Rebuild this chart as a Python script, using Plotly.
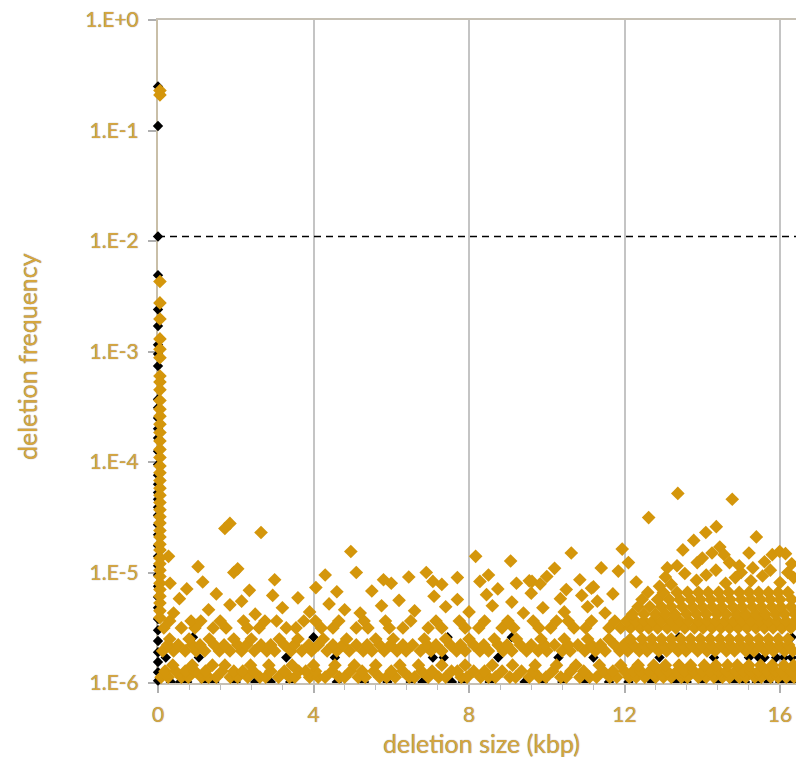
import plotly.graph_objects as go

# ---------------- data ----------------
X_MAX = 16.41          # visible end of the x axis (kbp)
THRESHOLD = 0.011      # dashed threshold frequency

# gold sample: dense bands, each as (frequency level, deletion sizes in kbp)
gold_1a_y = 1.13e-6
gold_1a_x = [0.08,0.26,0.6,0.78,1.12,1.3,1.5,1.86,2.05,2.31,2.62,2.77,3.1,3.38,3.52,3.9,4.12,4.3,4.66,4.8,5.15,5.33,5.7,5.88,6.1,6.46,6.6,6.95,7.22,7.4,7.8,7.95,8.3,8.5,8.68,9.05,9.2,9.55,9.8,9.98,10.36,10.5,10.85,11.1,11.28,11.62,11.8,12.12,12.3,12.52,12.8,13.0,13.2,13.46,13.62,13.9,14.1,14.3,14.52,14.7,14.95,15.12,15.35,15.52,15.76,15.95,16.16,16.36]
gold_1b_y = 1.28e-6
gold_1b_x = [0.18,0.45,0.7,0.95,1.22,1.65,1.95,2.18,2.45,2.9,3.25,3.62,3.8,4.05,4.48,4.95,5.25,5.55,6.0,6.3,6.78,7.05,7.55,7.7,8.12,8.4,8.85,9.35,9.65,10.15,10.62,10.95,11.45,11.7,12.0,12.22,12.42,12.65,12.9,13.1,13.35,13.55,13.78,14.0,14.2,14.42,14.62,14.85,15.05,15.25,15.45,15.65,15.88,16.05,16.28]
gold_1c_y = 1.45e-6
gold_1c_x = [0.38,0.88,1.4,1.72,2.38,2.85,3.45,4.0,4.55,5.05,5.6,6.22,6.7,7.3,7.9,8.6,9.12,9.7,10.25,10.75,11.35,11.9,12.35,12.75,13.05,13.4,13.7,14.05,14.35,14.65,14.9,15.2,15.5,15.8,16.1,16.35]
gold_2a_y = 1.95e-6
gold_2a_x = [0.12,0.4,0.7,0.98,1.2,1.58,1.85,2.15,2.48,2.8,3.0,3.42,3.7,3.95,4.35,4.6,4.92,5.28,5.5,5.82,6.15,6.38,6.75,7.02,7.3,7.68,7.9,8.28,8.5,8.88,9.1,9.48,9.78,10.0,10.4,10.6,10.98,11.25,11.5,11.88,12.08,12.38,12.58,12.88,13.08,13.38,13.58,13.88,14.12,14.33,14.62,14.83,15.12,15.33,15.62,15.83,16.12,16.33]
gold_2b_y = 2.21e-6
gold_2b_x = [0.25,0.52,0.88,1.08,1.45,1.7,2.05,2.28,2.65,2.9,3.25,3.5,3.88,4.12,4.5,4.75,5.1,5.38,5.7,5.98,6.3,6.55,6.92,7.15,7.52,7.78,8.12,8.38,8.75,8.98,9.32,9.6,9.95,10.2,10.55,10.8,11.15,11.38,11.75,11.98,12.22,12.48,12.72,12.98,13.22,13.48,13.72,13.98,14.22,14.48,14.72,14.98,15.22,15.48,15.72,15.98,16.22]
gold_2c_y = 2.5e-6
gold_2c_x = [0.3,0.8,1.32,1.95,2.4,3.12,3.6,4.25,4.85,5.6,6.05,6.85,7.4,8.0,8.65,9.22,9.85,10.45,11.05,11.6,12.15,12.45,12.7,12.95,13.2,13.45,13.7,13.95,14.2,14.45,14.7,14.95,15.2,15.45,15.7,15.95,16.2]
gold_3a_y = 3.15e-6
gold_3a_x = [0.15,0.6,0.95,1.42,1.75,2.3,2.6,3.3,3.55,4.2,4.5,5.1,5.4,5.95,6.3,6.95,7.3,7.9,8.25,8.85,9.15,9.8,10.1,10.7,11.0,11.6,11.9,12.15,12.4,12.62,12.85,13.1,13.32,13.55,13.8,14.02,14.25,14.48,14.7,14.92,15.15,15.38,15.6,15.82,16.05,16.28]
gold_3b_y = 3.64e-6
gold_3b_x = [0.3,0.85,1.1,1.6,2.2,2.75,3.05,3.75,4.05,4.65,5.3,5.85,6.5,7.15,7.75,8.4,9.0,9.65,10.25,10.55,11.15,11.75,12.05,12.28,12.5,12.72,12.95,13.2,13.42,13.65,13.9,14.12,14.35,14.58,14.8,15.02,15.25,15.48,15.7,15.92,16.15,16.38]
gold_4a_y = 4.2e-6
gold_4a_x = [12.2,12.5,12.8,13.05,13.3,13.6,13.85,14.1,14.38,14.62,14.88,15.12,15.38,15.62,15.88,16.12,16.38]
gold_4b_y = 4.9e-6
gold_4b_x = [12.35,12.65,12.95,13.2,13.48,13.75,14.0,14.25,14.5,14.78,15.02,15.28,15.52,15.78,16.02,16.28]
gold_5a_y = 5.7e-6
gold_5a_x = [12.45,12.85,13.15,13.42,13.7,13.95,14.22,14.48,14.72,15.0,15.25,15.5,15.75,16.0,16.3]
gold_5b_y = 6.6e-6
gold_5b_x = [12.6,13.0,13.35,13.62,13.9,14.15,14.42,14.68,14.95,15.2,15.45,15.7,15.95,16.2]

# gold scattered points (x in kbp, frequency)
gold_sc_x = [0.4,0.55,0.74,1.3,1.5,1.85,2.15,2.35,2.5,2.95,3.2,3.6,3.9,4.4,4.6,4.8,5.2,5.5,5.75,6.2,6.6,7.1,7.4,7.7,8.0,8.45,8.6,8.74,9.1,9.4,9.6,9.9,10.35,10.45,10.5,10.9,11.05,11.3,11.5,11.7,11.2,
             0.31,1.15,3.0,6.0,7.07,8.28,9.22,9.55,10.85,
             12.3,13.2,13.85,14.1,14.6,14.85,15.25,15.55,16.0,16.35,12.9,13.55,14.35,15.0,15.75,16.2,13.35,14.95,
             0.27,1.03,1.72,1.85,1.95,2.05,2.65,4.06,4.3,4.96,5.1,5.8,6.45,6.9,7.3,7.7,8.17,8.5,9.07,9.62,9.83,10.0,10.2,10.63,11.15,11.4,11.84,11.94,12.1,12.62,13.05,13.1,13.37,13.5,13.78,13.87,14.0,14.09,14.25,14.36,14.45,14.56,14.7,14.77,15.2,15.3,15.39,15.6,15.8,15.99,16.14,16.3]
gold_sc_y = [4.3e-6,5.8e-6,7.1e-6,4.6e-6,6.4e-6,5.1e-6,5.5e-6,6.9e-6,4.2e-6,6.2e-6,4.8e-6,5.9e-6,4.4e-6,5.2e-6,6.7e-6,4.6e-6,4.3e-6,6.8e-6,5.0e-6,5.6e-6,4.5e-6,6.1e-6,4.9e-6,5.7e-6,4.4e-6,6.3e-6,5.0e-6,7.1e-6,5.4e-6,4.3e-6,6.5e-6,4.8e-6,5.8e-6,4.4e-6,7.0e-6,6.2e-6,4.9e-6,5.5e-6,4.3e-6,6.4e-6,7.4e-6,
             8.0e-6,8.2e-6,8.6e-6,8.0e-6,8.3e-6,8.3e-6,8.0e-6,8.4e-6,8.6e-6,
             8.2e-6,7.8e-6,8.5e-6,9.5e-6,8.0e-6,9.0e-6,8.4e-6,9.3e-6,8.1e-6,9.0e-6,7.5e-6,9.8e-6,1.05e-5,1.0e-5,1.05e-5,1.0e-5,1.15e-5,1.15e-5,
             1.4e-5,1.13e-5,2.5e-5,2.78e-5,1.0e-5,1.08e-5,2.3e-5,7.3e-6,9.5e-6,1.55e-5,1.0e-5,8.6e-6,9.1e-6,1.0e-5,7.8e-6,9.0e-6,1.4e-5,9.5e-6,1.27e-5,8.3e-6,7.9e-6,9.2e-6,1.09e-5,1.5e-5,7.2e-6,1.1e-5,1.03e-5,1.63e-5,1.23e-5,3.14e-5,9.1e-6,1.1e-5,5.2e-5,1.6e-5,1.95e-5,1.23e-5,1.35e-5,2.3e-5,1.5e-5,2.6e-5,1.7e-5,1.45e-5,1.23e-5,4.6e-5,1.5e-5,1.1e-5,2.1e-5,1.25e-5,1.45e-5,1.55e-5,1.48e-5,1.2e-5]

# gold column of very small deletions
gold_col_x = 0.05
gold_col_y = [0.23,0.21,4.3e-3,2.75e-3,1.97e-3,1.3e-3,1.05e-3,8.8e-4,6e-4,5.3e-4,4.5e-4,3.6e-4,3.0e-4,2.6e-4,2.2e-4,1.85e-4,1.55e-4,1.3e-4,1.1e-4,9.2e-5,8e-5,6.8e-5,5.8e-5,5e-5,4.3e-5,3.7e-5,3.2e-5,2.8e-5,2.4e-5,2.1e-5,1.8e-5,1.6e-5,1.35e-5,1.2e-5,1.05e-5,9.2e-6,8e-6,7e-6,6.1e-6,5.3e-6,4.5e-6,3.9e-6]

# black sample
black_col_x = 0.0
black_col_y = [0.25,0.11,0.011,4.9e-3,2.4e-3,1.7e-3,1.15e-3,9.5e-4,7.4e-4,3.7e-4,3.1e-4,2.5e-4,2.0e-4,1.65e-4,1.25e-4,9.5e-5,7.6e-5,6.3e-5,5.3e-5,4.6e-5,3.9e-5,3.3e-5,2.7e-5,2.2e-5,1.75e-5,1.4e-5,1.15e-5,9.5e-6,7.5e-6,6e-6,4.8e-6,3.8e-6,3e-6,2.4e-6,1.9e-6,1.55e-6,1.25e-6,1.05e-6]
black_low_y = 1.02e-6
black_low_x = [0.33,0.57,0.75,1.2,1.45,2.0,2.5,2.9,3.4,4.6,5.3,5.9,6.5,6.8,7.56,7.84,8.53,9.43,9.9,10.4,11.0,11.6,12.1,12.7,13.3,13.6,14.0,14.4,14.8,15.1,15.4,15.7,16.0,16.3]
black_mid_y = 1.7e-6
black_mid_x = [0.2,1.05,3.3,4.55,7.07,7.35,8.75,10.3,11.2,12.9,14.3,15.2,15.45,15.6,15.9,16.1,16.3]
black_up_y = 2.6e-6
black_up_x = [0.9,4.0,7.45,9.1,13.4,16.3]

x_ticks = [0, 4, 8, 12, 16]
y_ticks = [1e-6, 1e-5, 1e-4, 1e-3, 1e-2, 1e-1, 1e0]
y_tick_text = ["1.E-6", "1.E-5", "1.E-4", "1.E-3", "1.E-2", "1.E-1", "1.E+0"]

# ---------------- assemble ----------------
gold_bands = [
    (gold_1a_y, gold_1a_x), (gold_1b_y, gold_1b_x), (gold_1c_y, gold_1c_x),
    (gold_2a_y, gold_2a_x), (gold_2b_y, gold_2b_x), (gold_2c_y, gold_2c_x),
    (gold_3a_y, gold_3a_x), (gold_3b_y, gold_3b_x),
    (gold_4a_y, gold_4a_x), (gold_4b_y, gold_4b_x),
    (gold_5a_y, gold_5a_x), (gold_5b_y, gold_5b_x),
]
gx, gy = [], []
for lvl, xs in gold_bands:
    gx += xs
    gy += [lvl] * len(xs)
gx += gold_sc_x
gy += gold_sc_y
gx += [gold_col_x] * len(gold_col_y)
gy += gold_col_y

bx, by = [], []
for lvl, xs in [(black_low_y, black_low_x), (black_mid_y, black_mid_x), (black_up_y, black_up_x)]:
    bx += xs
    by += [lvl] * len(xs)

GOLD = "#D4960B"
TEXT = "#D6A63E"
SHADOW = "0px 0px 1px #707070"
FONT = "Lato"

fig = go.Figure()
fig.add_trace(go.Scatter(x=bx, y=by, mode="markers", cliponaxis=True,
                         marker=dict(symbol="diamond", size=8, color="black", line=dict(width=0)),
                         showlegend=False, hoverinfo="skip"))
fig.add_trace(go.Scatter(x=[black_col_x] * len(black_col_y), y=black_col_y, mode="markers",
                         cliponaxis=False,
                         marker=dict(symbol="diamond", size=8, color="black", line=dict(width=0)),
                         showlegend=False, hoverinfo="skip"))
fig.add_trace(go.Scatter(x=[0, X_MAX], y=[THRESHOLD, THRESHOLD], mode="lines", cliponaxis=False,
                         line=dict(color="black", width=1.6, dash="7px,5px"),
                         showlegend=False, hoverinfo="skip"))
fig.add_trace(go.Scatter(x=gx, y=gy, mode="markers", cliponaxis=False,
                         marker=dict(symbol="diamond", size=10.5, color=GOLD, line=dict(width=0)),
                         showlegend=False, hoverinfo="skip"))

tickfont = dict(family=FONT, size=21, color=TEXT, shadow=SHADOW)
titlefont = dict(family=FONT, size=25, color=TEXT, shadow=SHADOW)

fig.update_layout(
    width=796, height=757,
    margin=dict(l=158, r=0, t=20, b=74),
    paper_bgcolor="white", plot_bgcolor="white",
    font=dict(family=FONT),
    xaxis=dict(range=[0, X_MAX], tickvals=x_ticks, ticktext=[str(v) for v in x_ticks],
               showgrid=True, gridcolor="#C4C4C4", gridwidth=2,
               showline=True, linecolor="#C6C0B4", linewidth=2, mirror=True,
               ticks="outside", ticklen=8, tickcolor="#AFAFAF", tickwidth=1.5,
               minor=dict(dtick=0.8, tick0=0, ticks="outside", ticklen=5, tickcolor="#BDBDBD",
                          tickwidth=1, showgrid=False),
               zeroline=False, tickfont=tickfont, ticklabelstandoff=4, layer="below traces"),
    yaxis=dict(type="log", range=[-6, 0], tickvals=y_ticks, ticktext=y_tick_text,
               showgrid=False, showline=True, linecolor="#C9BFA8", linewidth=2,
               ticks="outside", ticklen=8, tickcolor="#AFAFAF", tickwidth=1.5,
               zeroline=False, tickfont=tickfont, ticklabelstandoff=5, layer="below traces"),
    annotations=[
        dict(text="deletion size (kbp)", xref="paper", yref="paper",
             x=(481 - 158) / 638, y=-(743 - 683) / 663, xanchor="center", yanchor="middle",
             showarrow=False, font=titlefont),
        dict(text="deletion frequency", xref="paper", yref="paper",
             x=(27 - 158) / 638, y=(683 - 357) / 663, xanchor="center", yanchor="middle",
             textangle=-90, showarrow=False, font=titlefont),
    ],
)

fig.write_html("out.html")
